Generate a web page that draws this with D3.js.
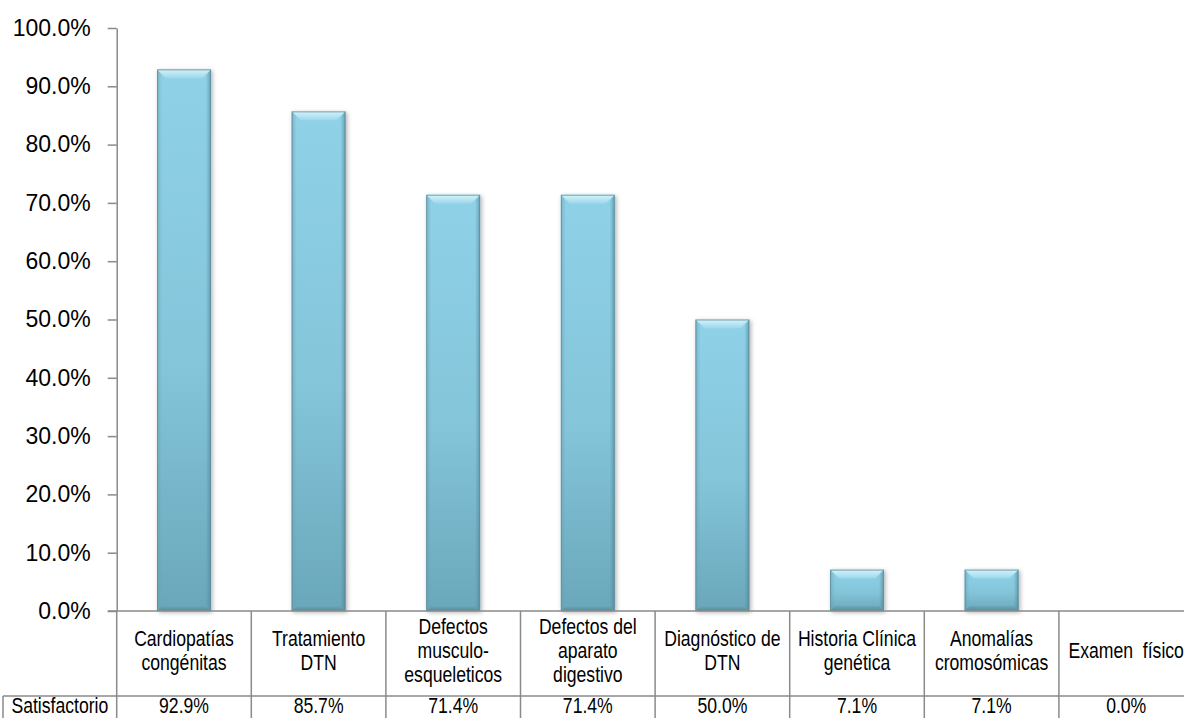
<!DOCTYPE html>
<html>
<head>
<meta charset="utf-8">
<script src="https://cdn.jsdelivr.net/npm/d3@7"></script>
<style>
  html, body { margin: 0; padding: 0; background: #fff; overflow: hidden; }
  svg { display: block; }
  .ylab { font-family: "Liberation Sans", Arial, sans-serif; font-size: 23px; }
  .tbl { font-family: "Liberation Sans", Arial, sans-serif; font-size: 22px; }
</style>
</head>
<body>
<svg id="chart" width="1184" height="718"></svg>
<script>
// ---- data ----
const categories = [
  "Cardiopatías congénitas",
  "Tratamiento DTN",
  "Defectos musculo-esqueleticos",
  "Defectos del aparato digestivo",
  "Diagnóstico de DTN",
  "Historia Clínica genética",
  "Anomalías cromosómicas",
  "Examen  físico"
];
const categoryLines = [
  ["Cardiopatías", "congénitas"],
  ["Tratamiento", "DTN"],
  ["Defectos", "musculo-", "esqueleticos"],
  ["Defectos del", "aparato", "digestivo"],
  ["Diagnóstico de", "DTN"],
  ["Historia Clínica", "genética"],
  ["Anomalías", "cromosómicas"],
  ["Examen  físico"]
];
const seriesName = "Satisfactorio";
const values = [92.9, 85.7, 71.4, 71.4, 50.0, 7.1, 7.1, 0.0];
const yTicks = [0, 10, 20, 30, 40, 50, 60, 70, 80, 90, 100];

// ---- layout ----
const W = 1184, H = 718;
const plotLeft = 116.7, plotRight = 1193.5;
const yBottom = 611, yTop = 28;
const tableMid = 696;
const legendLeft = 3;
const gridColor = "#8a8a8a";
const narrow = 0.8;

const svg = d3.select("#chart");
const defs = svg.append("defs");

const gBody = defs.append("linearGradient").attr("id", "gBody").attr("x1", 0).attr("y1", 0).attr("x2", 0).attr("y2", 1);
gBody.append("stop").attr("offset", "0%").attr("stop-color", "#8fd1e7");
gBody.append("stop").attr("offset", "55%").attr("stop-color", "#84c5da");
gBody.append("stop").attr("offset", "100%").attr("stop-color", "#6aa7ba");

const gTop = defs.append("linearGradient").attr("id", "gTop").attr("x1", 0).attr("y1", 0).attr("x2", 0).attr("y2", 1);
gTop.append("stop").attr("offset", "0%").attr("stop-color", "#d6f3fa");
gTop.append("stop").attr("offset", "100%").attr("stop-color", "#9ad7ea");

const gSideL = defs.append("linearGradient").attr("id", "gSideL").attr("x1", 0).attr("y1", 0).attr("x2", 1).attr("y2", 0);
gSideL.append("stop").attr("offset", "0%").attr("stop-color", "#6a9fb1").attr("stop-opacity", 0.55);
gSideL.append("stop").attr("offset", "100%").attr("stop-color", "#6a9fb1").attr("stop-opacity", 0);
const gSideR = defs.append("linearGradient").attr("id", "gSideR").attr("x1", 1).attr("y1", 0).attr("x2", 0).attr("y2", 0);
gSideR.append("stop").attr("offset", "0%").attr("stop-color", "#4f7f90").attr("stop-opacity", 0.6);
gSideR.append("stop").attr("offset", "100%").attr("stop-color", "#4f7f90").attr("stop-opacity", 0);

const gBot = defs.append("linearGradient").attr("id", "gBot").attr("x1", 0).attr("y1", 0).attr("x2", 0).attr("y2", 1);
gBot.append("stop").attr("offset", "0%").attr("stop-color", "#6aa5b8");
gBot.append("stop").attr("offset", "100%").attr("stop-color", "#4f8799");

const shadow = defs.append("filter").attr("id", "shadow").attr("x", "-20%").attr("y", "-5%").attr("width", "140%").attr("height", "115%");
shadow.append("feDropShadow").attr("dx", 1.5).attr("dy", 1.5).attr("stdDeviation", 2)
  .attr("flood-color", "#000").attr("flood-opacity", 0.3);

// ---- scales ----
const x = d3.scaleBand().domain(categories).range([plotLeft, plotRight]).paddingInner(0.6).paddingOuter(0.3);
const xCell = d3.scaleBand().domain(categories).range([plotLeft, plotRight]).padding(0);
const y = d3.scaleLinear().domain([0, 100]).range([yBottom, yTop]);

// ---- bars ----
const data = categories.map((c, i) => ({ c, v: values[i] }));
const bars = svg.append("g").selectAll("g.bar").data(data.filter(d => d.v > 0)).join("g")
  .attr("class", "bar").attr("filter", "url(#shadow)");

bars.each(function(d) {
  const g = d3.select(this);
  const x0 = x(d.c), x1 = x(d.c) + x.bandwidth();
  const y0 = y(d.v), y1 = y(0);
  const h = y1 - y0;
  const b = Math.min(9, h / 2);
  const s = Math.min(5, h / 2);
  g.append("rect").attr("x", x0).attr("y", y0).attr("width", x1 - x0).attr("height", h).attr("fill", "url(#gBody)");
  g.append("polygon").attr("points", [[x0, y0], [x0 + s, y0 + s], [x0 + s, y1 - s], [x0, y1]].join(" ")).attr("fill", "url(#gSideL)");
  g.append("polygon").attr("points", [[x1, y0], [x1 - s, y0 + s], [x1 - s, y1 - s], [x1, y1]].join(" ")).attr("fill", "url(#gSideR)");
  g.append("polygon").attr("points", [[x0, y1], [x1, y1], [x1 - s, y1 - s], [x0 + s, y1 - s]].join(" ")).attr("fill", "url(#gBot)").attr("opacity", 0.8);
  g.append("polygon").attr("points", [[x0, y0], [x1, y0], [x1 - b, y0 + b], [x0 + b, y0 + b]].join(" ")).attr("fill", "url(#gTop)");
  g.append("rect").attr("x", x0 + 0.5).attr("y", y0 + 0.5).attr("width", x1 - x0 - 1).attr("height", h - 1)
    .attr("fill", "none").attr("stroke", "#5d8e9f").attr("stroke-width", 1).attr("stroke-opacity", 0.8);
});

// ---- y axis ----
const yAxis = d3.axisLeft(y).tickValues(yTicks).tickSize(9).tickSizeOuter(0).tickPadding(17)
  .tickFormat(d => d.toFixed(1) + "%");
const ax = svg.append("g").attr("transform", `translate(${plotLeft},0)`).call(yAxis);
ax.attr("font-size", null).attr("font-family", null);
ax.select(".domain").attr("stroke", gridColor).attr("stroke-width", 1.5);
ax.selectAll(".tick line").attr("stroke", gridColor).attr("stroke-width", 1.5);
ax.selectAll(".tick text").attr("class", "ylab").attr("fill", "#000");

// ---- data table ----
const tbl = svg.append("g").attr("stroke", gridColor).attr("stroke-width", 1.5).attr("fill", "none");
tbl.append("line").attr("x1", plotLeft - 9).attr("x2", W).attr("y1", yBottom).attr("y2", yBottom);
tbl.append("line").attr("x1", legendLeft).attr("x2", W).attr("y1", tableMid).attr("y2", tableMid);
tbl.append("line").attr("x1", legendLeft).attr("x2", legendLeft).attr("y1", tableMid).attr("y2", H);
const bounds = categories.map(c => xCell(c)).concat([xCell.range()[1]]);
tbl.selectAll("line.v").data(bounds).join("line").attr("class", "v")
  .attr("x1", d => d).attr("x2", d => d).attr("y1", yBottom).attr("y2", H);

// narrow text helper (condensed look)
function narrowText(parent, cx, cy, lines, lineH) {
  const g = parent.append("g").attr("transform", `translate(${cx},${cy}) scale(${narrow},1)`);
  const t = g.append("text").attr("class", "tbl").attr("text-anchor", "middle").attr("fill", "#000")
    .attr("xml:space", "preserve").style("white-space", "pre");
  lines.forEach((ln, j) => {
    t.append("tspan").attr("x", 0)
      .attr("y", (j - (lines.length - 1) / 2) * lineH)
      .attr("dy", "0.35em")
      .text(ln);
  });
}

// category labels
const lineH = 24;
const catMid = 650;
const labels = svg.append("g");
categories.forEach((c, i) => {
  narrowText(labels, xCell(c) + xCell.bandwidth() / 2, catMid, categoryLines[i], lineH);
});

// value row
const valRowY = 705;
const vals = svg.append("g");
narrowText(vals, (legendLeft + plotLeft) / 2, valRowY, [seriesName], lineH);
data.forEach(d => {
  narrowText(vals, xCell(d.c) + xCell.bandwidth() / 2, valRowY, [d.v.toFixed(1) + "%"], lineH);
});
</script>
</body>
</html>
